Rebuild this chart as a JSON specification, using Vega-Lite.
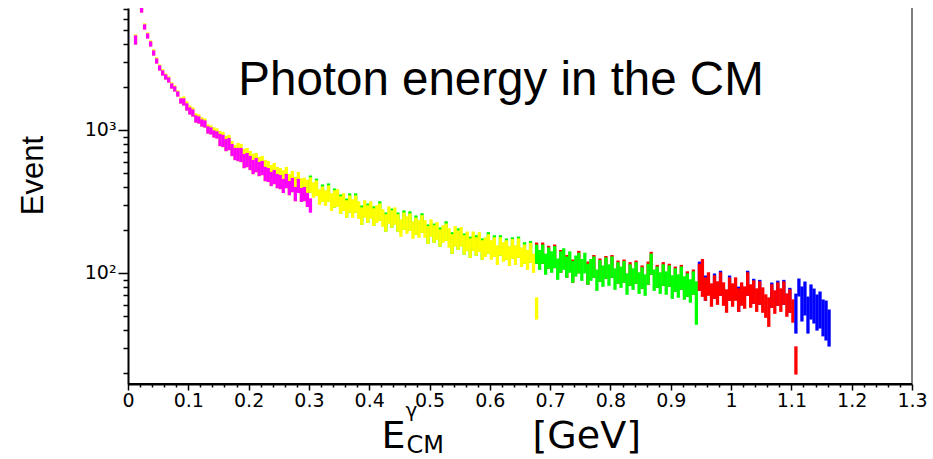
{
  "$schema": "https://vega.github.io/schema/vega-lite/v6.json",
  "width": 784,
  "height": 376,
  "autosize": "none",
  "padding": {"left": 128, "top": 8, "right": 21, "bottom": 75},
  "background": "white",
  "config": {"view": {"stroke": null}, "axis": {"grid": false}},
  "datasets": {
    "bins": [
      {"x":0.0125,"lo":4060,"hi":4470,"t":4540,"c":"m"},
      {"x":0.0225,"lo":6790,"hi":7020,"t":7130,"c":"m"},
      {"x":0.0275,"lo":5170,"hi":5340,"t":5430,"c":"m"},
      {"x":0.0325,"lo":4470,"hi":4620,"t":4690,"c":"m"},
      {"x":0.0375,"lo":3930,"hi":4060,"t":4130,"c":"m"},
      {"x":0.0425,"lo":3400,"hi":3510,"t":3570,"c":"m"},
      {"x":0.0475,"lo":2989,"hi":3087,"t":3140,"c":"m"},
      {"x":0.0525,"lo":2670,"hi":2758,"t":2800,"c":"m"},
      {"x":0.0575,"lo":2464,"hi":2545,"t":2590,"c":"m"},
      {"x":0.0625,"lo":2310,"hi":2386,"t":2420,"c":"m"},
      {"x":0.0675,"lo":2201,"hi":2273,"t":2310,"c":"m"},
      {"x":0.0725,"lo":1998,"hi":2064,"t":2100,"c":"m"},
      {"x":0.0775,"lo":1904,"hi":1967,"t":2000,"c":"m"},
      {"x":0.0825,"lo":1757,"hi":1814,"t":1843,"c":"m"},
      {"x":0.0875,"lo":1570,"hi":1621,"t":1647,"c":"m"},
      {"x":0.0925,"lo":1520,"hi":1621,"t":1674,"c":"m"},
      {"x":0.0975,"lo":1402,"hi":1496,"t":1545,"c":"m"},
      {"x":0.1025,"lo":1315,"hi":1402,"t":1448,"c":"m"},
      {"x":0.1075,"lo":1273,"hi":1358,"t":1402,"c":"m"},
      {"x":0.1125,"lo":1156,"hi":1233,"t":1273,"c":"m"},
      {"x":0.1175,"lo":1137,"hi":1213,"t":1253,"c":"m"},
      {"x":0.1225,"lo":1084,"hi":1156,"t":1194,"c":"m"},
      {"x":0.1275,"lo":1067,"hi":1137,"t":1174,"c":"m"},
      {"x":0.1325,"lo":968,"hi":1033,"t":1067,"c":"m"},
      {"x":0.1375,"lo":953,"hi":1016,"t":1049,"c":"m"},
      {"x":0.1425,"lo":908,"hi":968,"t":1016,"c":"m"},
      {"x":0.1475,"lo":893,"hi":953,"t":1000,"c":"m"},
      {"x":0.1525,"lo":791,"hi":914,"t":960,"c":"m"},
      {"x":0.1575,"lo":779,"hi":900,"t":944,"c":"m"},
      {"x":0.1625,"lo":730,"hi":843,"t":885,"c":"m"},
      {"x":0.1675,"lo":742,"hi":857,"t":900,"c":"m"},
      {"x":0.1725,"lo":674,"hi":778,"t":816,"c":"m"},
      {"x":0.1775,"lo":632,"hi":730,"t":766,"c":"m"},
      {"x":0.1825,"lo":621,"hi":730,"t":791,"c":"m"},
      {"x":0.1875,"lo":612,"hi":730,"t":779,"c":"m"},
      {"x":0.1925,"lo":555,"hi":662,"t":718,"c":"m"},
      {"x":0.1975,"lo":564,"hi":673,"t":729,"c":"m"},
      {"x":0.2025,"lo":538,"hi":642,"t":696,"c":"m"},
      {"x":0.2075,"lo":504,"hi":601,"t":666,"c":"m"},
      {"x":0.2125,"lo":520,"hi":621,"t":673,"c":"m"},
      {"x":0.2175,"lo":488,"hi":582,"t":631,"c":"m"},
      {"x":0.2225,"lo":496,"hi":592,"t":642,"c":"m"},
      {"x":0.2275,"lo":450,"hi":538,"t":602,"c":"m"},
      {"x":0.2325,"lo":444,"hi":528,"t":592,"c":"m"},
      {"x":0.2375,"lo":416,"hi":496,"t":555,"c":"m"},
      {"x":0.2425,"lo":429,"hi":512,"t":573,"c":"m"},
      {"x":0.2475,"lo":402,"hi":480,"t":538,"c":"m"},
      {"x":0.2525,"lo":396,"hi":472,"t":528,"c":"m"},
      {"x":0.2575,"lo":372,"hi":443,"t":510,"c":"m"},
      {"x":0.2625,"lo":402,"hi":480,"t":538,"c":"m"},
      {"x":0.2675,"lo":359,"hi":428,"t":479,"c":"m"},
      {"x":0.2725,"lo":377,"hi":450,"t":504,"c":"m"},
      {"x":0.2775,"lo":326,"hi":389,"t":458,"c":"m"},
      {"x":0.2825,"lo":372,"hi":443,"t":496,"c":"m"},
      {"x":0.2875,"lo":322,"hi":383,"t":447,"c":"m"},
      {"x":0.2925,"lo":326,"hi":389,"t":452,"c":"m"},
      {"x":0.2975,"lo":297,"hi":354,"t":437,"c":"m"},
      {"x":0.3025,"lo":373,"hi":455,"t":468,"c":"y"},
      {"x":0.3075,"lo":345,"hi":419,"c":"y"},
      {"x":0.3125,"lo":355,"hi":433,"t":445,"c":"y"},
      {"x":0.3175,"lo":308,"hi":375,"c":"y"},
      {"x":0.3225,"lo":323,"hi":393,"t":405,"c":"y"},
      {"x":0.3275,"lo":303,"hi":369,"c":"y"},
      {"x":0.3325,"lo":323,"hi":399,"t":412,"c":"y"},
      {"x":0.3375,"lo":279,"hi":352,"c":"y"},
      {"x":0.3425,"lo":294,"hi":369,"t":380,"c":"y"},
      {"x":0.3475,"lo":298,"hi":375,"c":"y"},
      {"x":0.3525,"lo":266,"hi":335,"t":345,"c":"y"},
      {"x":0.3575,"lo":279,"hi":352,"c":"y"},
      {"x":0.3625,"lo":250,"hi":314,"t":323,"c":"y"},
      {"x":0.3675,"lo":271,"hi":340,"t":351,"c":"y"},
      {"x":0.3725,"lo":250,"hi":319,"c":"y"},
      {"x":0.3775,"lo":271,"hi":340,"t":351,"c":"y"},
      {"x":0.3825,"lo":246,"hi":309,"c":"y"},
      {"x":0.3875,"lo":223,"hi":280,"t":289,"c":"y"},
      {"x":0.3925,"lo":250,"hi":314,"c":"y"},
      {"x":0.3975,"lo":230,"hi":290,"t":298,"c":"y"},
      {"x":0.4025,"lo":246,"hi":309,"c":"y"},
      {"x":0.4075,"lo":219,"hi":276,"t":285,"c":"y"},
      {"x":0.4125,"lo":230,"hi":290,"c":"y"},
      {"x":0.4175,"lo":238,"hi":299,"t":309,"c":"y"},
      {"x":0.4225,"lo":216,"hi":272,"c":"y"},
      {"x":0.4275,"lo":200,"hi":251,"t":258,"c":"y"},
      {"x":0.4325,"lo":227,"hi":285,"c":"y"},
      {"x":0.4375,"lo":213,"hi":267,"t":275,"c":"y"},
      {"x":0.4425,"lo":223,"hi":280,"c":"y"},
      {"x":0.4475,"lo":200,"hi":251,"t":258,"c":"y"},
      {"x":0.4525,"lo":184,"hi":231,"c":"y"},
      {"x":0.4575,"lo":206,"hi":258,"t":267,"c":"y"},
      {"x":0.4625,"lo":193,"hi":243,"c":"y"},
      {"x":0.4675,"lo":202,"hi":254,"t":263,"c":"y"},
      {"x":0.4725,"lo":178,"hi":224,"c":"y"},
      {"x":0.4775,"lo":190,"hi":238,"t":246,"c":"y"},
      {"x":0.4825,"lo":181,"hi":228,"c":"y"},
      {"x":0.4875,"lo":196,"hi":247,"t":255,"c":"y"},
      {"x":0.4925,"lo":181,"hi":228,"c":"y"},
      {"x":0.4975,"lo":164,"hi":207,"t":213,"c":"y"},
      {"x":0.5025,"lo":184,"hi":231,"c":"y"},
      {"x":0.5075,"lo":167,"hi":210,"t":216,"c":"y"},
      {"x":0.5125,"lo":175,"hi":221,"c":"y"},
      {"x":0.5175,"lo":157,"hi":196,"t":203,"c":"y"},
      {"x":0.5225,"lo":167,"hi":210,"c":"y"},
      {"x":0.5275,"lo":172,"hi":216,"t":224,"c":"y"},
      {"x":0.5325,"lo":154,"hi":200,"c":"y"},
      {"x":0.5375,"lo":140,"hi":182,"t":188,"c":"y"},
      {"x":0.5425,"lo":157,"hi":207,"c":"y"},
      {"x":0.5475,"lo":149,"hi":193,"t":200,"c":"y"},
      {"x":0.5525,"lo":157,"hi":204,"c":"y"},
      {"x":0.5575,"lo":138,"hi":179,"t":184,"c":"y"},
      {"x":0.5625,"lo":146,"hi":190,"c":"y"},
      {"x":0.5675,"lo":131,"hi":170,"t":175,"c":"y"},
      {"x":0.5725,"lo":146,"hi":190,"c":"y"},
      {"x":0.5775,"lo":136,"hi":173,"t":179,"c":"y"},
      {"x":0.5825,"lo":144,"hi":188,"c":"y"},
      {"x":0.5875,"lo":127,"hi":165,"t":170,"c":"y"},
      {"x":0.5925,"lo":133,"hi":173,"c":"y"},
      {"x":0.5975,"lo":140,"hi":182,"t":188,"c":"y"},
      {"x":0.6025,"lo":127,"hi":165,"c":"y"},
      {"x":0.6075,"lo":133,"hi":173,"t":179,"c":"y"},
      {"x":0.6125,"lo":117,"hi":152,"c":"y"},
      {"x":0.6175,"lo":136,"hi":173,"t":179,"c":"y"},
      {"x":0.6225,"lo":123,"hi":160,"c":"y"},
      {"x":0.6275,"lo":127,"hi":165,"t":170,"c":"y"},
      {"x":0.6325,"lo":115,"hi":150,"c":"y"},
      {"x":0.6375,"lo":129,"hi":168,"t":173,"c":"y"},
      {"x":0.6425,"lo":117,"hi":152,"c":"y"},
      {"x":0.6475,"lo":131,"hi":170,"t":175,"c":"y"},
      {"x":0.6525,"lo":113,"hi":147,"c":"y"},
      {"x":0.6575,"lo":119,"hi":154,"t":160,"c":"y"},
      {"x":0.6625,"lo":108,"hi":141,"c":"y"},
      {"x":0.6675,"lo":121,"hi":158,"t":163,"c":"y"},
      {"x":0.6725,"lo":103,"hi":133,"c":"y"},
      {"x":0.6775,"lo":119,"hi":154,"t":159,"c":"g"},
      {"x":0.6825,"lo":108,"hi":141,"c":"g"},
      {"x":0.6875,"lo":119,"hi":154,"t":159,"c":"g"},
      {"x":0.6925,"lo":99.8,"hi":133,"c":"g"},
      {"x":0.6975,"lo":110,"hi":147,"t":151,"c":"g"},
      {"x":0.7025,"lo":103,"hi":138,"c":"g"},
      {"x":0.7075,"lo":111,"hi":150,"t":154,"c":"g"},
      {"x":0.7125,"lo":92,"hi":123,"c":"g"},
      {"x":0.7175,"lo":103,"hi":138,"t":141,"c":"g"},
      {"x":0.7225,"lo":108,"hi":145,"c":"g"},
      {"x":0.7275,"lo":95,"hi":127,"t":130,"c":"g"},
      {"x":0.7325,"lo":103,"hi":138,"c":"g"},
      {"x":0.7375,"lo":87.7,"hi":118,"t":121,"c":"g"},
      {"x":0.7425,"lo":96.9,"hi":129,"c":"g"},
      {"x":0.7475,"lo":102,"hi":135,"t":139,"c":"g"},
      {"x":0.7525,"lo":90.5,"hi":122,"c":"g"},
      {"x":0.7575,"lo":102,"hi":135,"c":"g"},
      {"x":0.7625,"lo":84.9,"hi":113,"t":117,"c":"g"},
      {"x":0.7675,"lo":90.5,"hi":122,"c":"g"},
      {"x":0.7725,"lo":95,"hi":127,"t":130,"c":"g"},
      {"x":0.7775,"lo":77,"hi":103,"c":"g"},
      {"x":0.7825,"lo":89.1,"hi":120,"t":123,"c":"g"},
      {"x":0.7875,"lo":82.2,"hi":110,"c":"g"},
      {"x":0.7925,"lo":93.5,"hi":125,"t":128,"c":"g"},
      {"x":0.7975,"lo":83.5,"hi":112,"c":"g"},
      {"x":0.8025,"lo":95,"hi":127,"t":130,"c":"g"},
      {"x":0.8075,"lo":78.3,"hi":105,"c":"g"},
      {"x":0.8125,"lo":86.3,"hi":116,"t":119,"c":"g"},
      {"x":0.8175,"lo":80.8,"hi":108,"c":"g"},
      {"x":0.8225,"lo":87.7,"hi":118,"t":121,"c":"g"},
      {"x":0.8275,"lo":72.3,"hi":96.9,"c":"g"},
      {"x":0.8325,"lo":83.5,"hi":112,"t":116,"c":"g"},
      {"x":0.8375,"lo":78.3,"hi":105,"c":"g"},
      {"x":0.8425,"lo":86.3,"hi":116,"t":119,"c":"g"},
      {"x":0.8475,"lo":73.4,"hi":98.5,"c":"g"},
      {"x":0.8525,"lo":79.6,"hi":107,"t":110,"c":"g"},
      {"x":0.8575,"lo":71.1,"hi":95.3,"c":"g"},
      {"x":0.8625,"lo":84.9,"hi":113,"t":117,"c":"g"},
      {"x":0.8675,"lo":99.8,"hi":133,"t":137,"c":"g"},
      {"x":0.8725,"lo":77,"hi":103,"c":"g"},
      {"x":0.8775,"lo":80.8,"hi":108,"t":111,"c":"g"},
      {"x":0.8825,"lo":73.4,"hi":98.5,"c":"g"},
      {"x":0.8875,"lo":83.5,"hi":112,"t":116,"c":"g"},
      {"x":0.8925,"lo":72.3,"hi":100,"c":"g"},
      {"x":0.8975,"lo":82.2,"hi":110,"t":113,"c":"g"},
      {"x":0.9025,"lo":67.7,"hi":93.9,"c":"g"},
      {"x":0.9075,"lo":75.8,"hi":105,"t":108,"c":"g"},
      {"x":0.9125,"lo":68.9,"hi":95.3,"c":"g"},
      {"x":0.9175,"lo":78.3,"hi":108,"t":111,"c":"g"},
      {"x":0.9225,"lo":66.7,"hi":92.3,"c":"g"},
      {"x":0.9275,"lo":69.9,"hi":96.9,"t":100,"c":"g"},
      {"x":0.9325,"lo":63.6,"hi":88,"c":"g"},
      {"x":0.9375,"lo":72.3,"hi":100,"t":103,"c":"g"},
      {"x":0.9425,"lo":44.6,"hi":85.2,"c":"g"},
      {"x":0.9475,"lo":77,"hi":113,"t":117,"c":"r"},
      {"x":0.9525,"lo":69.9,"hi":122,"c":"r"},
      {"x":0.9575,"lo":65.6,"hi":90.8,"t":93.5,"c":"r"},
      {"x":0.9625,"lo":71.1,"hi":98.5,"c":"r"},
      {"x":0.9675,"lo":59.6,"hi":82.5,"c":"r"},
      {"x":0.9725,"lo":67.7,"hi":93.9,"t":96.6,"c":"r"},
      {"x":0.9775,"lo":61.5,"hi":85.2,"c":"r"},
      {"x":0.9825,"lo":71.1,"hi":98.5,"t":101,"c":"r"},
      {"x":0.9875,"lo":60.5,"hi":83.8,"c":"r"},
      {"x":0.9925,"lo":54.1,"hi":74.9,"c":"r"},
      {"x":0.9975,"lo":65.6,"hi":90.8,"t":93.5,"c":"r"},
      {"x":1.0025,"lo":59.6,"hi":82.5,"c":"r"},
      {"x":1.0075,"lo":65.6,"hi":90.8,"c":"r"},
      {"x":1.0125,"lo":54.9,"hi":76.1,"t":78.2,"c":"r"},
      {"x":1.0175,"lo":60.5,"hi":83.8,"c":"r"},
      {"x":1.0225,"lo":57.7,"hi":78.5,"c":"r"},
      {"x":1.0275,"lo":71.1,"hi":98.5,"t":101,"c":"r"},
      {"x":1.0325,"lo":58.6,"hi":81.2,"c":"r"},
      {"x":1.0375,"lo":62.5,"hi":86.5,"t":88.7,"c":"r"},
      {"x":1.0425,"lo":54.9,"hi":76.1,"c":"r"},
      {"x":1.0475,"lo":61.5,"hi":85.2,"t":87.2,"c":"r"},
      {"x":1.0525,"lo":54.1,"hi":77.3,"c":"r"},
      {"x":1.0575,"lo":49.9,"hi":69.1,"c":"r"},
      {"x":1.0625,"lo":43.1,"hi":65.8,"c":"r"},
      {"x":1.0675,"lo":58.6,"hi":81.2,"t":83.5,"c":"r"},
      {"x":1.0725,"lo":53.2,"hi":73.7,"c":"r"},
      {"x":1.0775,"lo":60.5,"hi":83.8,"t":86.1,"c":"r"},
      {"x":1.0825,"lo":54.9,"hi":76.1,"c":"r"},
      {"x":1.0875,"lo":61.5,"hi":85.2,"t":87.2,"c":"r"},
      {"x":1.0925,"lo":50.7,"hi":70.2,"c":"r"},
      {"x":1.0975,"lo":54.1,"hi":74.9,"t":76.7,"c":"r"},
      {"x":1.1025,"lo":46.1,"hi":63.7,"c":"r"},
      {"x":1.1075,"lo":38.7,"hi":69.9,"c":"b"},
      {"x":1.1125,"lo":70.3,"hi":89.1,"c":"b"},
      {"x":1.1175,"lo":47,"hi":78.4,"c":"b"},
      {"x":1.1225,"lo":51.8,"hi":84.9,"c":"b"},
      {"x":1.1275,"lo":38.7,"hi":66.6,"c":"b"},
      {"x":1.1325,"lo":48.5,"hi":81,"c":"b"},
      {"x":1.1375,"lo":45.5,"hi":75.8,"c":"b"},
      {"x":1.1425,"lo":40.6,"hi":68.9,"c":"b"},
      {"x":1.1475,"lo":42,"hi":72.3,"c":"b"},
      {"x":1.1525,"lo":37,"hi":63.6,"c":"b"},
      {"x":1.1575,"lo":34.6,"hi":62.5,"c":"b"},
      {"x":1.1625,"lo":31.4,"hi":54.1,"c":"b"},
      {"x":0.3025,"lo":271,"hi":324,"c":"m"},
      {"x":0.6775,"lo":48.5,"hi":65.8,"c":"y"},
      {"x":1.1075,"lo":20.0,"hi":29.9,"c":"r"}
    ]
  },
  "layer": [
    {
      "data": {"name": "bins"},
      "transform": [{"filter": "isValid(datum.t)"}],
      "mark": {"type": "rule", "strokeWidth": 3.3, "strokeCap": "square", "clip": true},
      "encoding": {
        "x": {
          "field": "x", "type": "quantitative",
          "scale": {"domain": [0, 1.3], "nice": false, "zero": false},
          "axis": {
            "orient": "bottom",
            "values": [0,0.1,0.2,0.3,0.4,0.5,0.6,0.7,0.8,0.9,1,1.1,1.2,1.3],
            "format": "~g", "ticks": false,
            "domain": true, "domainColor": "#000", "domainWidth": 2,
            "labelFont": "DejaVu Sans", "labelFontSize": 19, "labelColor": "#000", "labelPadding": 7,
            "labelFlush": false, "labelOverlap": false, "grid": false,
            "title": "E", "titleFont": "DejaVu Sans", "titleFontSize": 38, "titleFontWeight": "normal", "titleColor": "#000",
            "titleX": 253, "titleY": 63, "titleAlign": "left", "titleBaseline": "alphabetic", "titleAngle": 0
          }
        },
        "y": {
          "field": "lo", "type": "quantitative",
          "scale": {"type": "log", "domain": [16.74, 7130], "nice": false},
          "axis": {
            "orient": "left", "values": [100, 1000],
            "labelExpr": "datum.value == 100 ? '10²' : '10³'",
            "ticks": false, "domain": true, "domainColor": "#000", "domainWidth": 2,
            "labelFont": "DejaVu Sans", "labelFontSize": 19, "labelColor": "#000", "labelPadding": 12,
            "grid": false,
            "title": "Event", "titleFont": "Liberation Sans", "titleFontSize": 31, "titleFontWeight": "normal", "titleColor": "#000",
            "titleX": -95, "titleY": 167, "titleAngle": -90, "titleAlign": "center", "titleBaseline": "middle"
          }
        },
        "y2": {"field": "t"},
        "color": {
          "field": "c", "type": "nominal", "legend": null,
          "scale": {"domain": ["m","y","g","r","b"], "range": ["#ffff00","#00ff00","#ff0000","#0000ff","#0000ff"]}
        }
      }
    },
    {
      "data": {"name": "bins"},
      "mark": {"type": "rule", "strokeWidth": 3.3, "strokeCap": "square", "clip": true},
      "encoding": {
        "x": {
          "field": "x", "type": "quantitative",
          "scale": {"domain": [0, 1.3], "nice": false, "zero": false},
          "axis": {
            "orient": "bottom", "ticks": false, "labels": false, "domain": false, "grid": false,
            "title": "[GeV]", "titleFont": "DejaVu Sans", "titleFontSize": 38, "titleFontWeight": "normal", "titleColor": "#000",
            "titleX": 404, "titleY": 63, "titleAlign": "left", "titleBaseline": "alphabetic", "titleAngle": 0
          }
        },
        "y": {
          "field": "lo", "type": "quantitative",
          "scale": {"type": "log", "domain": [16.74, 7130], "nice": false},
          "axis": null
        },
        "y2": {"field": "hi"},
        "color": {
          "field": "c", "type": "nominal", "legend": null,
          "scale": {"domain": ["m","y","g","r","b"], "range": ["#ff00ff","#ffff00","#00ff00","#ff0000","#0000ff"]}
        }
      }
    },
    {
      "data": {"values": [{}]},
      "mark": {"type": "rule", "color": "#555555", "strokeWidth": 1.5},
      "encoding": {
        "x": {
          "datum": 1.3, "type": "quantitative",
          "axis": {
            "orient": "bottom",
            "values": [0,0.1,0.2,0.3,0.4,0.5,0.6,0.7,0.8,0.9,1,1.1,1.2,1.3],
            "ticks": true, "tickSize": 6, "tickWidth": 1.5, "tickColor": "#000",
            "labels": true, "labelExpr": "''", "labelPadding": 0, "domain": false, "grid": false,
            "title": "γ", "titleFont": "DejaVu Sans", "titleFontSize": 20, "titleFontWeight": "normal", "titleColor": "#000",
            "titleX": 277, "titleY": 32, "titleAlign": "left", "titleBaseline": "alphabetic", "titleAngle": 0
          }
        }
      }
    },
    {
      "data": {"values": [{"label": "Photon energy in the CM"}]},
      "mark": {"type": "text", "font": "Liberation Sans", "fontSize": 47.5, "align": "center", "baseline": "alphabetic", "color": "#000"},
      "encoding": {
        "text": {"field": "label"},
        "x": {
          "datum": 0.6185, "type": "quantitative",
          "axis": {
            "orient": "bottom",
            "values": [0.02,0.04,0.06,0.08,0.12,0.14,0.16,0.18,0.22,0.24,0.26,0.28,0.32,0.34,0.36,0.38,0.42,0.44,0.46,0.48,0.52,0.54,0.56,0.58,0.62,0.64,0.66,0.68,0.72,0.74,0.76,0.78,0.82,0.84,0.86,0.88,0.92,0.94,0.96,0.98,1.02,1.04,1.06,1.08,1.12,1.14,1.16,1.18,1.22,1.24,1.26,1.28],
            "ticks": true, "tickSize": 3, "tickWidth": 1.5, "tickColor": "#000",
            "labels": true, "labelExpr": "''", "labelPadding": 0, "domain": false, "grid": false,
            "title": "CM", "titleFont": "DejaVu Sans", "titleFontSize": 24, "titleFontWeight": "normal", "titleColor": "#000",
            "titleX": 278, "titleY": 68, "titleAlign": "left", "titleBaseline": "alphabetic", "titleAngle": 0
          }
        },
        "y": {
          "datum": 1743, "type": "quantitative",
          "axis": {
            "orient": "left", "values": [100, 1000],
            "ticks": true, "tickSize": 10, "tickWidth": 1.5, "tickColor": "#000",
            "labels": true, "labelExpr": "''", "labelPadding": 0, "domain": false, "grid": false, "title": null
          }
        }
      }
    },
    {
      "data": {"values": [{}]},
      "mark": {"type": "rule", "color": "#000000", "strokeWidth": 2},
      "encoding": {
        "y": {
          "datum": 16.74, "type": "quantitative",
          "axis": {
            "orient": "left",
            "values": [20,30,40,50,60,70,80,90,200,300,400,500,600,700,800,900,2000,3000,4000,5000,6000,7000],
            "ticks": true, "tickSize": 5, "tickWidth": 1.5, "tickColor": "#000",
            "labels": true, "labelExpr": "''", "labelPadding": 0, "domain": false, "grid": false, "title": null
          }
        }
      }
    }
  ],
  "resolve": {
    "scale": {"color": "independent"},
    "axis": {"x": "independent", "y": "independent"}
  }
}
